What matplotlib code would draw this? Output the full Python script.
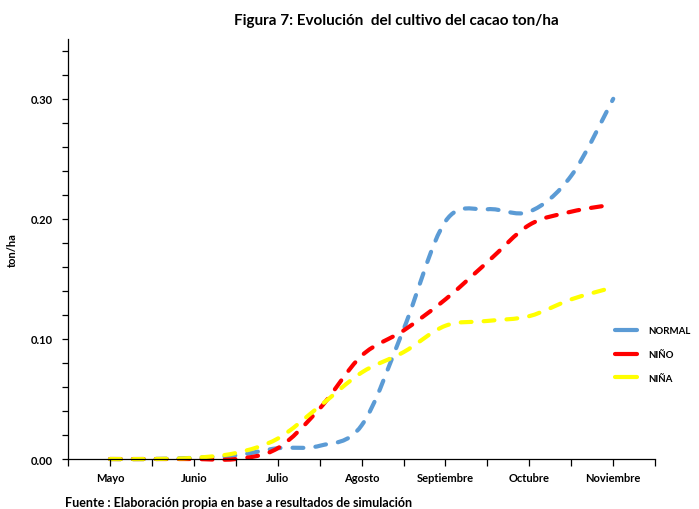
import matplotlib
matplotlib.use("Agg")
import matplotlib.pyplot as plt
from matplotlib.path import Path
from matplotlib.patches import PathPatch
from matplotlib.lines import Line2D
import numpy as np

# datos (cada medio mes, Mayo -> Noviembre)
meses = ["Mayo", "Junio", "Julio", "Agosto", "Septiembre", "Octubre", "Noviembre"]
normal = [0.000, 0.000, 0.001, 0.003, 0.009, 0.011, 0.028, 0.108, 0.198, 0.208, 0.206, 0.236, 0.300]
nino = [0.000, 0.000, 0.000, 0.000, 0.009, 0.042, 0.086, 0.107, 0.133, 0.164, 0.195, 0.206, 0.212]
nina = [0.000, 0.000, 0.001, 0.005, 0.017, 0.044, 0.072, 0.089, 0.111, 0.115, 0.119, 0.133, 0.143]

series = [("NORMAL", normal, "#5B9BD5"), ("NIÑO", nino, "#FF0000"), ("NIÑA", nina, "#FFFF00")]

plt.rcParams["font.family"] = ["Lato", "DejaVu Sans"]

fig = plt.figure(figsize=(6.99, 5.10), dpi=100)
ax = fig.add_axes([0.0973, 0.098, 0.84, 0.824])

dash = (0, (2.6, 2.9))
lw = 3.0


def curva(y):
    # linea suavizada tipo Excel (bezier entre los puntos)
    x = np.arange(len(y), dtype=float)
    y = np.array(y, dtype=float)
    verts = [(x[0], y[0])]
    codes = [Path.MOVETO]
    n = len(y)
    for i in range(n - 1):
        p0 = i - 1 if i > 0 else i
        p3 = i + 2 if i + 2 < n else i + 1
        c1 = (x[i] + (x[i + 1] - x[p0]) / 6, y[i] + (y[i + 1] - y[p0]) / 6)
        c2 = (x[i + 1] - (x[p3] - x[i]) / 6, y[i + 1] - (y[p3] - y[i]) / 6)
        verts += [c1, c2, (x[i + 1], y[i + 1])]
        codes += [Path.CURVE4] * 3
    return Path(verts, codes)


handles = []
for nombre, vals, col in series:
    patch = PathPatch(curva(vals), fill=False, edgecolor=col, lw=lw,
                      linestyle=dash, capstyle="round", clip_on=False)
    ax.add_patch(patch)
    handles.append(Line2D([], [], color=col, lw=lw, solid_capstyle="round", label=nombre))

ax.set_xlim(-1, 13)
ax.set_ylim(0, 0.35)
ax.set_xticks(np.arange(-1, 14))
ax.set_xticklabels([""] + [meses[i // 2] if i % 2 == 0 else "" for i in range(13)] + [""])
ax.set_yticks(np.arange(0, 0.351, 0.02))
ax.set_yticklabels(["%.2f" % v if round(v * 100) % 10 == 0 else "" for v in np.arange(0, 0.351, 0.02)])

for s in ["top", "right"]:
    ax.spines[s].set_visible(False)
for s in ["left", "bottom"]:
    ax.spines[s].set_linewidth(0.9)
ax.tick_params(axis="x", length=5, width=0.9, pad=4, labelsize=8)
ax.tick_params(axis="y", length=4, width=0.9, pad=7, labelsize=8)
for lab in ax.get_xticklabels() + ax.get_yticklabels():
    lab.set_fontweight("bold")

ax.set_ylabel("ton/ha", fontsize=8, fontweight="bold", labelpad=9)

fig.text(0.567, 0.958, "Figura 7: Evolución  del cultivo del cacao ton/ha",
         ha="center", va="center", fontsize=11, fontweight="bold")
fig.text(0.093, 0.014, "Fuente : Elaboración propia en base a resultados de simulación",
         ha="left", va="center", fontsize=9, fontweight="bold")

leg = fig.legend(handles=handles, loc="center left", bbox_to_anchor=(0.868, 0.303),
                 frameon=False, handlelength=2.2, labelspacing=1.5, handletextpad=1.2,
                 prop={"size": 7, "weight": "bold"})

fig.savefig("out.png", dpi=100)
